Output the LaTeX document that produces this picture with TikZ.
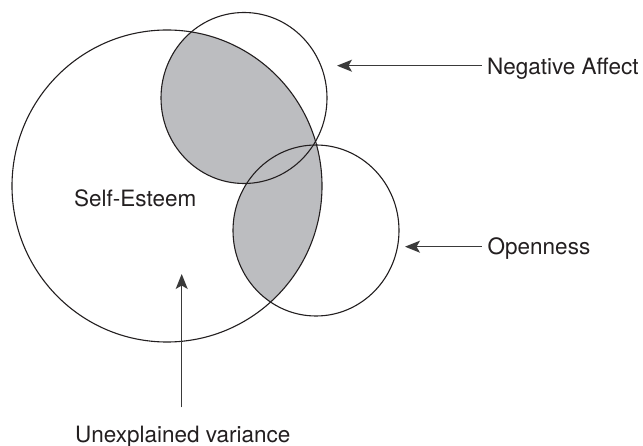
\documentclass[tikz,border=0pt]{standalone}
\usepackage{fontspec}
\setmainfont{TeX Gyre Heros}
\usetikzlibrary{arrows.meta}
\definecolor{ink}{HTML}{231F20}
\definecolor{lensgray}{HTML}{BCBDC0}
\definecolor{arrowink}{HTML}{3A3A3A}
\tikzset{
  outline/.style={draw=ink, line width=1.1pt},
  arr/.style={draw=arrowink, line width=1.3pt, -{Stealth[length=15pt, width=12pt, inset=3.5pt]}},
  lbl/.style={inner sep=0pt, anchor=base west, text=ink, font=\fontsize{22.5}{26}\selectfont}
}
\begin{document}
\begin{tikzpicture}[x=1pt, y=-1pt]
  \useasboundingbox[fill=white] (0,0) rectangle (643,446);
  % shaded overlaps
  \begin{scope}
    \clip (167,186) ellipse [x radius=155pt, y radius=156pt];
    \fill[fill=lensgray] (244,98) ellipse [x radius=83pt, y radius=85.5pt];
    \fill[fill=lensgray] (316,230.5) ellipse [x radius=83pt, y radius=85.5pt];
  \end{scope}
  % outlines
  \draw[outline] (167,186) ellipse [x radius=155pt, y radius=156pt];
  \draw[outline] (244,98) ellipse [x radius=83pt, y radius=85.5pt];
  \draw[outline] (316,230.5) ellipse [x radius=83pt, y radius=85.5pt];
  % labels
  \node[lbl] (se) at (74,206.7) {Self-Esteem};
  \node[lbl] (na) at (487,75) {Negative Affect};
  \node[lbl] (op) at (487.5,255) {Openness};
  \node[lbl] (uv) at (75,442.3) {Unexplained variance};
  % arrow ends
  \coordinate (naStart) at (481.7,65.7);
  \coordinate (naTip) at (337,65.7);
  \coordinate (opStart) at (481.7,246.7);
  \coordinate (opTip) at (405,246.7);
  \coordinate (uvStart) at (181.7,407.5);
  \coordinate (uvTip) at (181.7,274);
  \draw[arr] (naStart) -- (naTip);
  \draw[arr] (opStart) -- (opTip);
  \draw[arr] (uvStart) -- (uvTip);
\end{tikzpicture}
\end{document}
